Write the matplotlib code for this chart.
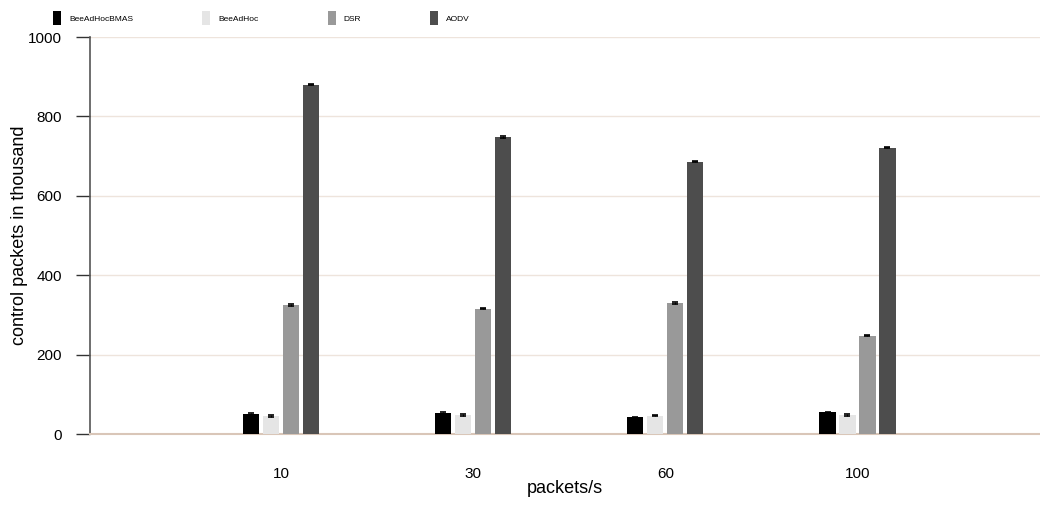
import numpy as np
import matplotlib.pyplot as plt

plt.rcParams['font.family'] = ['Liberation Sans', 'DejaVu Sans']

rates = ['10', '30', '60', '100']
series = ['BeeAdHocBMAS', 'BeeAdHoc', 'DSR', 'AODV']
colors = ['#000000', '#e5e5e5', '#999999', '#4d4d4d']

bmas = [50, 53, 42, 55]
beeadhoc = [46, 48, 46, 48]
dsr = [325, 316, 330, 248]
aodv = [880, 748, 686, 721]
errs = [2, 2, 1.5, 1.5]

values = [bmas, beeadhoc, dsr, aodv]

fig = plt.figure(figsize=(10.4, 5.09), dpi=100)
ax = fig.add_axes([0.0865, 0.1473, 0.9135, 0.78])

x = np.arange(len(rates))
pitch = 0.104
width = 0.084
for k, (name, vals, c) in enumerate(zip(series, values, colors)):
    ax.bar(x + (k - 1.5) * pitch, vals, width, color=c, label=name,
           yerr=errs, error_kw=dict(ecolor='black', elinewidth=0.8, capsize=2.5, capthick=1.2),
           zorder=3)

ax.set_xlim(-0.995, 3.95)
ax.set_ylim(0, 1000)
ax.set_yticks(range(0, 1001, 200))
ax.set_xticks(x)
ax.set_xticklabels(rates)
ax.grid(axis='y', color='#eee4dc', linewidth=1, zorder=0)

for s in ['top', 'right']:
    ax.spines[s].set_visible(False)
ax.spines['bottom'].set_color('#d9c6b8')
ax.spines['bottom'].set_linewidth(1.5)
ax.spines['left'].set_color('#555555')
ax.spines['left'].set_linewidth(1.2)

ax.tick_params(axis='y', direction='out', length=10, width=1, color='#333333',
               labelsize=11, pad=10)
ax.tick_params(axis='x', length=0, labelsize=11, pad=24)

ax.set_xlabel('packets/s', fontsize=13, labelpad=-1)
ax.set_ylabel('control packets in thousand', fontsize=13, labelpad=0)

ax.legend(loc='lower left', bbox_to_anchor=(-0.045, 1.015), ncol=4, frameon=False,
          fontsize=6, handlelength=0.96, handleheight=2.2, handletextpad=0.96,
          columnspacing=8.3, borderaxespad=0.3)

fig.savefig('out.png', dpi=100)
